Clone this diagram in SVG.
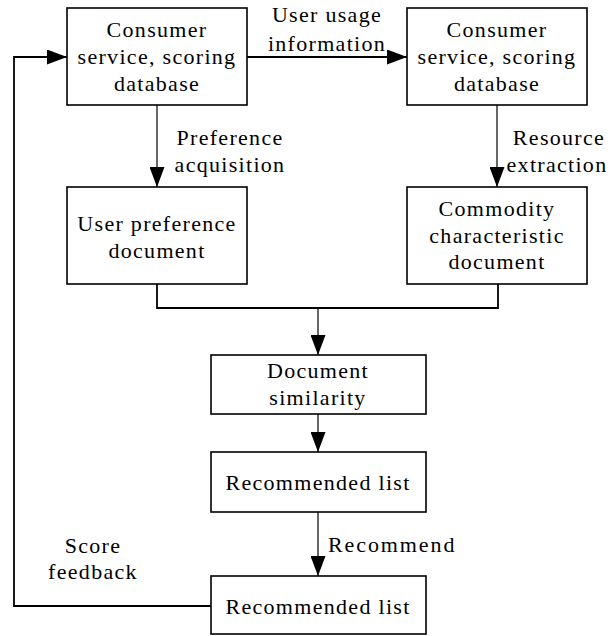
<svg xmlns="http://www.w3.org/2000/svg" width="611" height="636" viewBox="0 0 611 636">
  <style>
    .box { fill: #ffffff; stroke: #000000; stroke-width: 1.6; }
    .txt { font-family: 'Liberation Serif', 'DejaVu Serif', 'Times New Roman', serif; font-size: 22px; letter-spacing: 1.3px; fill: #000000; text-anchor: middle; }
    .lbl { font-family: 'Liberation Serif', 'DejaVu Serif', 'Times New Roman', serif; font-size: 22px; letter-spacing: 1.3px; fill: #000000; }
    .wire { fill: none; stroke: #000000; stroke-width: 1.2; }
    .bus { fill: none; stroke: #000000; stroke-width: 1.8; }
  </style>
  <defs>
    <marker id="arrow" viewBox="0 0 20 15" refX="20" refY="7.5" markerWidth="20" markerHeight="15" markerUnits="userSpaceOnUse" orient="auto">
      <path d="M0,0 L20,7.5 L0,15 Z" fill="#000000"/>
    </marker>
  </defs>

  <g id="connectors">
    <!-- usage information: left database to right database -->
    <path class="bus" d="M247,57 H407" marker-end="url(#arrow)"/>
    <!-- preference acquisition -->
    <path class="wire" d="M157,105 V187" marker-end="url(#arrow)"/>
    <!-- resource extraction -->
    <path class="wire" d="M497,105 V187" marker-end="url(#arrow)"/>
    <!-- merge of both documents -->
    <path class="bus" d="M157,284 V308 H498 V284"/>
    <path class="wire" d="M318,308 V355" marker-end="url(#arrow)"/>
    <!-- similarity to list -->
    <path class="wire" d="M318,414 V452" marker-end="url(#arrow)"/>
    <!-- recommend -->
    <path class="wire" d="M318,512 V576" marker-end="url(#arrow)"/>
    <!-- score feedback loop -->
    <path class="bus" d="M211,606 H14 V57 H67" marker-end="url(#arrow)"/>
    <text class="lbl" x="327" y="22" text-anchor="middle">User usage</text>
    <text class="lbl" x="327" y="51" text-anchor="middle">information</text>
    <text class="lbl" x="230" y="145" text-anchor="middle">Preference</text>
    <text class="lbl" x="230" y="172" text-anchor="middle">acquisition</text>
    <text class="lbl" x="559" y="145" text-anchor="middle">Resource</text>
    <text class="lbl" x="557" y="172" text-anchor="middle">extraction</text>
    <text class="lbl" x="328" y="552" style="letter-spacing:1.9px">Recommend</text>
    <text class="lbl" x="93" y="553" text-anchor="middle">Score</text>
    <text class="lbl" x="93" y="579" text-anchor="middle">feedback</text>
  </g>

  <g id="db-left">
    <rect class="box" x="67" y="8" width="180" height="97"/>
    <text class="txt" x="157" y="37">Consumer</text>
    <text class="txt" x="157" y="64">service, scoring</text>
    <text class="txt" x="157" y="91">database</text>
  </g>

  <g id="db-right">
    <rect class="box" x="407" y="8" width="180" height="97"/>
    <text class="txt" x="497" y="37">Consumer</text>
    <text class="txt" x="497" y="64">service, scoring</text>
    <text class="txt" x="497" y="91">database</text>
  </g>

  <g id="user-pref">
    <rect class="box" x="67" y="187" width="180" height="97"/>
    <text class="txt" x="157" y="231">User preference</text>
    <text class="txt" x="157" y="258">document</text>
  </g>

  <g id="commodity">
    <rect class="box" x="407" y="187" width="180" height="97"/>
    <text class="txt" x="497" y="216">Commodity</text>
    <text class="txt" x="497" y="243">characteristic</text>
    <text class="txt" x="497" y="269">document</text>
  </g>

  <g id="similarity">
    <rect class="box" x="211" y="355" width="215" height="59"/>
    <text class="txt" x="318" y="378">Document</text>
    <text class="txt" x="318" y="405">similarity</text>
  </g>

  <g id="rec-list">
    <rect class="box" x="211" y="452" width="215" height="60"/>
    <text class="txt" x="318" y="490">Recommended list</text>
  </g>

  <g id="rec-list-final">
    <rect class="box" x="211" y="576" width="215" height="58"/>
    <text class="txt" x="318" y="614">Recommended list</text>
  </g>
</svg>
